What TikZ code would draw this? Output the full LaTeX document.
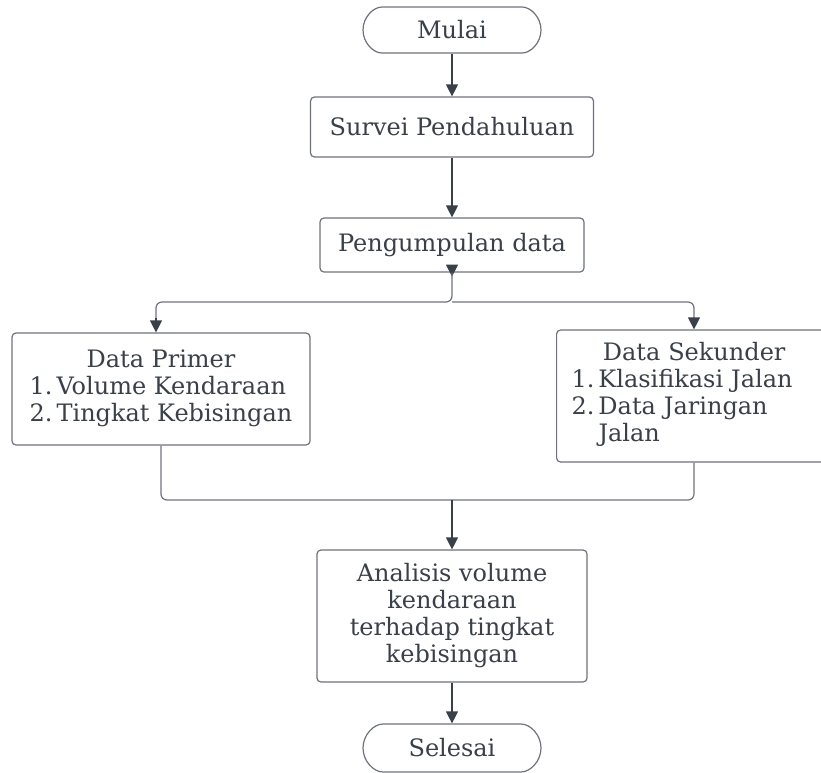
\documentclass[tikz,border=0pt]{standalone}
\usepackage{fontspec}
\setmainfont{DejaVu Serif}
\usepackage{xcolor}
\usetikzlibrary{arrows.meta, positioning, shapes.misc}
\definecolor{ink}{HTML}{3A4049}
\definecolor{rule}{HTML}{6E737B}
\tikzset{
  font=\fontsize{24}{27}\selectfont,
  >={Triangle[length=12pt, width=12pt]},
  %
  box/.style={
    draw=rule, line width=1.2pt, fill=white, rounded corners=4pt,
    inner sep=4pt, align=center, text=ink,
  },
  term/.style={box, rounded rectangle},
  %
  flow/.style={draw=ink, line width=1.2pt, ->},
  link/.style={draw=rule, line width=1.2pt, rounded corners=6pt},
}

\begin{document}
\begin{tikzpicture}[x=1pt, y=1pt]
\clip (0,0) rectangle (821,-772);
\useasboundingbox (0,0) rectangle (821,-772);

% =========================================================================
\node[term, minimum width=186, minimum height=46] (mulai) at (452,-30) {Mulai};
\node[box, minimum width=283, minimum height=60] (survei) at (452,-127)
  {Survei Pendahuluan};
\node[box, minimum width=264, minimum height=54] (kumpul) at (452,-245)
  {Pengumpulan data};

\node[box, minimum width=298, minimum height=112] (primer) at (161,-389)
  {\begin{tabular}{@{}r@{\,}l@{}}
    \multicolumn{2}{c}{Data Primer}\\
    1. & Volume Kendaraan\\
    2. & Tingkat Kebisingan
  \end{tabular}};
\node[box, anchor=west, inner xsep=15pt, text width=240, align=left,
      minimum height=132] (sekunder) at (556,-396)
  {\begin{tabular}{@{}r@{\,}l@{}}
    \multicolumn{2}{c}{\hspace*{24pt}Data Sekunder}\\
    1. & Klasifikasi Jalan\\
    2. & Data Jaringan\\
       & Jalan
  \end{tabular}};

\node[box, minimum width=270, minimum height=132] (analisis) at (452,-616)
  {Analisis volume\\kendaraan\\terhadap tingkat\\kebisingan};
\node[term, minimum width=186, minimum height=48] (selesai) at (452,-748) {Selesai};

\coordinate (split) at (452,-302);
\coordinate (merge) at (452,-500);

% =========================================================================
\draw[flow] (mulai.south) -- (survei.north);
\draw[flow] (survei.south) -- (kumpul.north);

\draw[flow] (kumpul.south) -- ++(0,-4);
\draw[link] (kumpul.south) -- (split) -| (156,-318);
\draw[link] (split) -| (694,-318);
\draw[flow] (156,-318) -- (primer.north -| 156,0);
\draw[flow] (694,-318) -- (sekunder.north -| 694,0);

\draw[link] (primer.south) |- (merge);
\draw[link] (sekunder.south -| 694,0) |- (merge);
\draw[flow] (merge) -- (analisis.north);
\draw[flow] (analisis.south) -- (selesai.north);

\end{tikzpicture}
\end{document}
